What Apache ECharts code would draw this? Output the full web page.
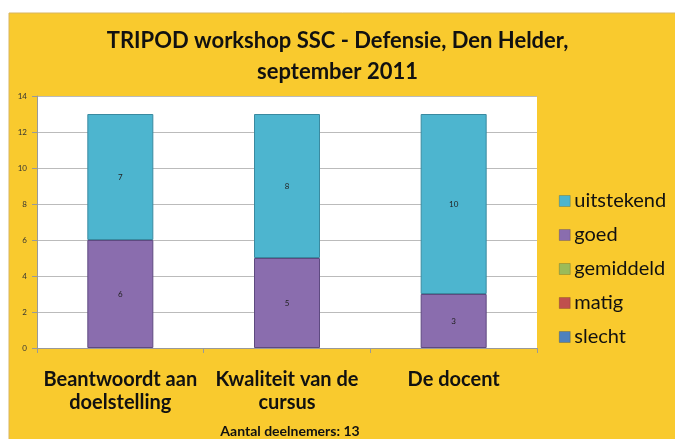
<!DOCTYPE html>
<html>
<head>
<meta charset="utf-8">
<script src="https://cdn.jsdelivr.net/npm/echarts@6/dist/echarts.min.js"></script>
<style>
  body { margin: 0; background: #fff; }
  #main { width: 675px; height: 439px; }
</style>
</head>
<body>
<div id="main"></div>
<script>
  // categorieen en aantallen per beoordeling
  var categories = ['Beantwoordt aan\ndoelstelling', 'Kwaliteit van de\ncursus', 'De docent'];
  var slecht = [0, 0, 0];
  var matig = [0, 0, 0];
  var gemiddeld = [0, 0, 0];
  var goed = [6, 5, 3];
  var uitstekend = [7, 8, 10];
  var yTicks = [0, 2, 4, 6, 8, 10, 12, 14];

  var colors = {
    slecht: '#4F81BD',
    matig: '#C0504D',
    gemiddeld: '#9BBB59',
    goed: '#8A6DAE',
    uitstekend: '#4DB5CF'
  };
  var borders = {
    goed: '#5E4A80',
    uitstekend: '#3A8AA0'
  };

  var font = 'Lato, "Open Sans", sans-serif';

  function makeSeries(name, data, withLabel) {
    return {
      name: name,
      type: 'bar',
      stack: 'totaal',
      barWidth: 66,
      data: data,
      itemStyle: {
        color: colors[name],
        borderColor: borders[name] || colors[name],
        borderWidth: withLabel ? 1 : 0
      },
      label: {
        show: withLabel,
        position: 'inside',
        fontSize: 8,
        fontFamily: font,
        color: '#222'
      }
    };
  }

  var chart = echarts.init(document.getElementById('main'));
  var option = {
    backgroundColor: '#fff',
    animation: false,
    graphic: [{
      type: 'rect',
      z: -10,
      shape: { x: 9, y: 13, width: 670, height: 430 },
      style: { fill: '#F9CA2E', stroke: '#D8B560', lineWidth: 1 }
    }],
    title: [{
      text: 'TRIPOD workshop SSC - Defensie, Den Helder,\nseptember 2011',
      left: 'center',
      top: 20,
      textStyle: {
        fontFamily: font,
        fontSize: 22,
        fontWeight: 'bold',
        color: '#111',
        lineHeight: 31
      }
    }, {
      text: 'Aantal deelnemers: 13',
      left: 285,
      top: 419,
      textAlign: 'center',
      textStyle: {
        fontFamily: font,
        fontSize: 14,
        fontWeight: 'bold',
        color: '#111'
      }
    }],
    legend: {
      orient: 'vertical',
      left: 554,
      top: 186,
      itemGap: 14,
      itemWidth: 11,
      itemHeight: 11,
      itemStyle: { borderColor: 'rgba(0,0,0,0.35)', borderWidth: 0.5 },
      icon: 'rect',
      data: ['uitstekend', 'goed', 'gemiddeld', 'matig', 'slecht'],
      textStyle: {
        fontFamily: font,
        fontSize: 20,
        color: '#111',
        padding: [0, 0, 0, -1]
      }
    },
    grid: {
      left: 37,
      right: 138,
      top: 96,
      bottom: 91,
      show: true,
      backgroundColor: '#fff',
      borderWidth: 0
    },
    xAxis: {
      type: 'category',
      data: categories,
      axisLine: { lineStyle: { color: '#999' } },
      axisTick: { show: true, length: 5, lineStyle: { color: '#999' } },
      axisLabel: {
        interval: 0,
        fontFamily: font,
        fontSize: 20,
        fontWeight: 'bold',
        color: '#111',
        lineHeight: 23,
        margin: 20
      }
    },
    yAxis: {
      type: 'value',
      min: yTicks[0],
      max: yTicks[yTicks.length - 1],
      interval: 2,
      axisLine: { show: true, lineStyle: { color: '#999' } },
      axisTick: { show: true, length: 5, lineStyle: { color: '#999' } },
      splitLine: { lineStyle: { color: '#BBB' } },
      axisLabel: {
        fontFamily: font,
        fontSize: 8,
        color: '#333',
        margin: 10
      }
    },
    series: [
      makeSeries('slecht', slecht, false),
      makeSeries('matig', matig, false),
      makeSeries('gemiddeld', gemiddeld, false),
      makeSeries('goed', goed, true),
      makeSeries('uitstekend', uitstekend, true)
    ]
  };
  chart.setOption(option);
</script>
</body>
</html>
